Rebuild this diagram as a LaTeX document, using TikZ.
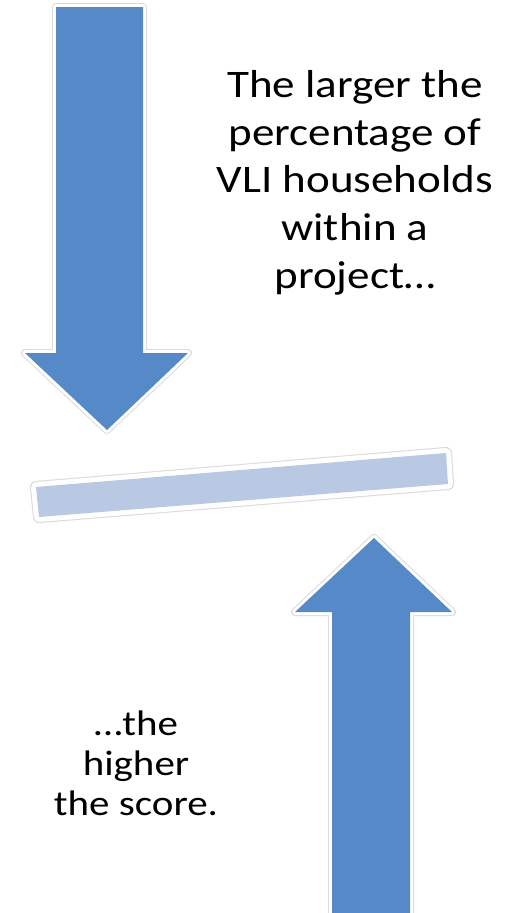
\documentclass[tikz,border=0pt]{standalone}
\usepackage{fontspec}
\setmainfont{Carlito}
\newfontfamily\widefont[FakeStretch=1.155]{Carlito}
\usepackage{xcolor}
\definecolor{vizArrow}{HTML}{5689C8}
\definecolor{vizBar}{HTML}{B9C9E4}
\definecolor{vizGlow}{HTML}{DADADA}

\begin{document}
\begin{tikzpicture}[x=1pt, y=-1pt]
  \useasboundingbox[fill=white] (0,0) rectangle (506,913);
  % down arrow
  \draw[vizGlow, line width=8pt, line join=round] (56,7) -- (143,7) -- (143,353) -- (188,353) -- (107,430) -- (25,353) -- (56,353) -- cycle;
  \draw[white, line width=6pt, line join=round] (56,7) -- (143,7) -- (143,353) -- (188,353) -- (107,430) -- (25,353) -- (56,353) -- cycle;
  \fill[vizArrow] (56,7) -- (143,7) -- (143,353) -- (188,353) -- (107,430) -- (25,353) -- (56,353) -- cycle;
  % bar
  \draw[vizGlow, line width=12pt, line join=round] (36,487) -- (446,453) -- (448,484) -- (39,517) -- cycle;
  \draw[white, line width=10pt, line join=round] (36,487) -- (446,453) -- (448,484) -- (39,517) -- cycle;
  \fill[vizBar] (36,487) -- (446,453) -- (448,484) -- (39,517) -- cycle;
  % up arrow
  \draw[vizGlow, line width=8pt, line join=round] (374,538) -- (452,612) -- (410,612) -- (410,913) -- (332,913) -- (332,612) -- (295,612) -- cycle;
  \draw[white, line width=6pt, line join=round] (374,538) -- (452,612) -- (410,612) -- (410,913) -- (332,913) -- (332,612) -- (295,612) -- cycle;
  \fill[vizArrow] (374,538) -- (452,612) -- (410,612) -- (410,913) -- (332,913) -- (332,612) -- (295,612) -- cycle;
  % texts
  \node[anchor=north, inner sep=0pt, align=center, font=\widefont\fontsize{39}{47.8}\selectfont] (top) at (355,70) {The larger the\\percentage of\\VLI households\\within a\\project…};
  \node[anchor=north, inner sep=0pt, align=center, font=\widefont\fontsize{35.5}{40}\selectfont] (bottom) at (136,711) {…the\\higher\\the score.};
\end{tikzpicture}
\end{document}
